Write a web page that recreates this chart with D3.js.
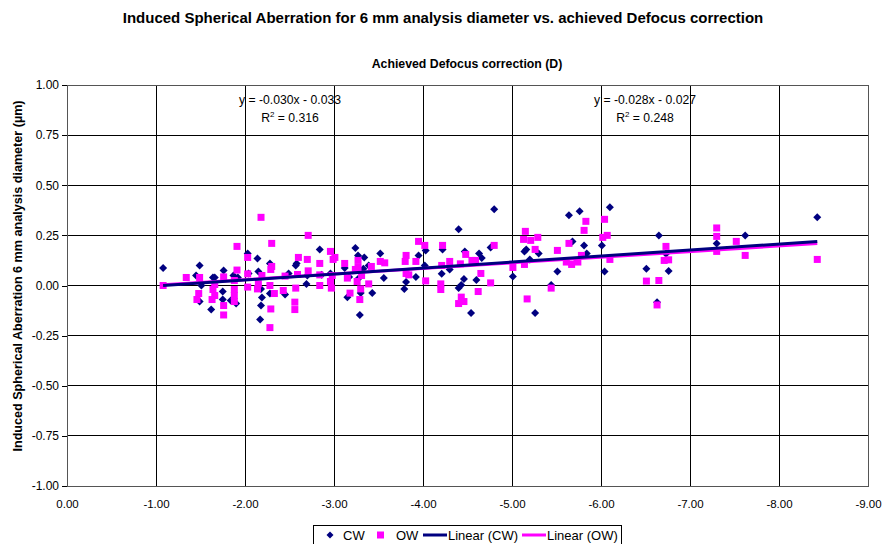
<!DOCTYPE html>
<html>
<head>
<meta charset="utf-8">
<script src="https://cdn.jsdelivr.net/npm/d3@7"></script>
<style>
  body { margin: 0; background: #fff; }
  svg { font-family: "Liberation Sans", Arial, sans-serif; display: block; }
</style>
</head>
<body>
<script>
// CW series (achieved defocus D, induced SA um)
const cwX = [-1.08,-1.49,-1.45,-1.64,-1.49,-1.62,-1.51,-2.03,-2.14,-2.84,-2.57,-2.58,-2.28,-1.76,-1.87,-1.92,-2.04,-2.15,-2.49,-2.70,
  -2.86,-2.96,-1.66,-1.75,-1.75,-1.90,-2.18,-2.19,-2.18,-2.17,-2.28,-2.45,-2.69,-3.24,-3.27,-3.34,-3.52,-3.12,-3.33,-3.39,
  -3.95,-4.03,-4.02,-4.22,-4.30,-4.21,-4.40,-3.17,-3.27,-3.30,-3.43,-3.15,-3.29,-3.56,-3.92,-3.81,-3.79,-4.80,-5.64,-5.76,
  -5.68,-4.76,-5.14,-5.16,-5.30,-5.20,-4.47,-4.63,-4.66,-5.01,-5.51,-4.46,-4.60,-4.43,-4.40,-5.44,-4.54,-5.26,-6.10,-5.81,
  -6.01,-5.84,-6.04,-6.65,-6.73,-6.51,-6.76,-6.63,-7.30,-7.62,-8.43,-1.84];
const cwY = [0.087,0.10,0.05,0.04,-0.08,-0.12,0.0,0.16,0.135,0.18,0.10,0.11,0.11,0.075,0.05,0.04,0.06,0.07,0.06,0.05,
  0.053,0.06,0.04,-0.03,-0.07,-0.09,-0.017,-0.06,-0.10,-0.17,-0.04,-0.045,0.008,0.187,0.15,0.14,0.16,0.087,0.083,0.10,
  0.15,0.175,0.10,0.18,0.08,0.058,0.28,0.042,0.033,-0.038,-0.038,-0.058,-0.147,0.037,0.043,0.017,-0.017,0.38,0.35,0.37,
  0.22,0.19,0.17,0.18,0.16,0.13,0.17,0.16,0.137,0.045,0.07,0.033,0.028,0.003,-0.013,0.003,-0.137,-0.137,0.39,0.20,
  0.20,0.16,0.07,0.25,0.158,0.083,0.072,-0.083,0.21,0.25,0.34,-0.075];

// OW series
const owX = [-1.08,-1.34,-1.49,-1.48,-1.46,-1.64,-1.63,-2.18,-2.71,-1.91,-2.30,-2.03,-2.96,-2.99,-2.60,-2.70,-2.84,-2.30,-2.29,-1.91,
  -1.76,-2.03,-2.19,-2.45,-2.59,-2.71,-2.84,-2.98,-1.66,-1.66,-1.88,-1.88,-1.88,-1.88,-1.76,-1.76,-2.03,-2.14,-2.15,-2.28,
  -2.33,-2.29,-2.28,-2.43,-2.57,-2.56,-2.56,-2.84,-2.96,-2.97,-3.01,-3.12,-3.27,-3.27,-3.24,-3.42,-3.52,-3.57,-3.81,-3.80,
  -3.95,-4.02,-3.92,-4.22,-4.30,-4.21,-3.15,-3.31,-3.26,-3.30,-3.39,-3.18,-3.29,-3.81,-3.84,-4.03,-4.20,-4.20,-4.40,-5.15,
  -5.13,-5.21,-5.29,-5.64,-4.80,-5.26,-5.51,-4.48,-4.55,-4.59,-4.42,-4.65,-5.01,-5.14,-5.61,-5.67,-5.73,-4.76,-4.62,-5.44,
  -4.43,-4.46,-5.17,-5.83,-5.81,-6.04,-6.02,-6.07,-5.78,-5.74,-6.10,-6.73,-6.71,-6.76,-6.51,-6.65,-6.63,-7.30,-7.30,-7.30,
  -7.52,-7.62,-8.43];
const owY = [0.0,0.04,0.04,-0.04,-0.07,-0.02,-0.07,0.34,0.25,0.195,0.21,0.14,0.17,0.13,0.14,0.13,0.11,0.095,0.08,0.077,
  0.043,0.058,0.05,0.047,0.055,0.073,0.053,0.05,0.005,-0.05,0.025,-0.02,-0.05,-0.08,-0.10,-0.147,-0.008,-0.017,0.008,0.0,
  -0.04,-0.117,-0.21,-0.025,-0.013,-0.083,-0.12,0.0,0.02,-0.013,0.14,0.11,0.125,0.09,0.08,0.095,0.12,0.113,0.15,0.12,
  0.22,0.20,0.12,0.20,0.12,0.10,0.037,0.05,0.02,-0.017,0.008,-0.038,-0.07,0.06,0.053,0.023,0.008,-0.02,-0.09,0.27,
  0.23,0.225,0.24,0.21,0.20,0.18,0.175,0.155,0.125,0.125,0.108,0.06,0.09,0.105,0.117,0.105,0.12,0.013,-0.03,-0.013,
  -0.058,-0.08,-0.067,0.32,0.275,0.33,0.24,0.25,0.15,0.117,0.13,0.195,0.125,0.128,0.022,0.025,-0.097,0.287,0.245,0.17,
  0.22,0.15,0.13];

// linear trendlines as printed on the chart
const trendCW = {slope: -0.030, intercept: -0.033, r2: 0.316};
const trendOW = {slope: -0.028, intercept: -0.027, r2: 0.248};

const xTicks = [0,-1,-2,-3,-4,-5,-6,-7,-8,-9];
const yTicks = [-1,-0.75,-0.5,-0.25,0,0.25,0.5,0.75,1];

const W = 883, H = 544;
const navy = "#000080", magenta = "#FF00FF";

// plain hyphen instead of d3's unicode minus
const fmt2 = v => d3.format(".2f")(v).replace("\u2212", "-");
const fmt3 = v => d3.format(".3f")(v).replace("\u2212", "-");

const svg = d3.select("body").append("svg").attr("width", W).attr("height", H);

const x = d3.scaleLinear().domain([0, -9]).range([67, 868]);
const y = d3.scaleLinear().domain([-1, 1]).range([486, 85]);

// titles
svg.append("text").attr("x", 443).attr("y", 23).attr("text-anchor", "middle")
  .attr("font-weight", "bold").attr("font-size", 15)
  .text("Induced Spherical Aberration for 6 mm analysis diameter vs. achieved Defocus correction");
svg.append("text").attr("x", 467).attr("y", 68).attr("text-anchor", "middle")
  .attr("font-weight", "bold").attr("font-size", 12.3)
  .text("Achieved Defocus correction (D)");
svg.append("text").attr("transform", "translate(22,276) rotate(-90)").attr("text-anchor", "middle")
  .attr("font-weight", "bold").attr("font-size", 12.6)
  .text("Induced Spherical Aberration 6 mm analysis diameter (µm)");

// grid
const grid = svg.append("g").attr("shape-rendering", "crispEdges");
grid.selectAll("line.v").data(xTicks).join("line")
  .attr("x1", d => x(d)).attr("x2", d => x(d)).attr("y1", y(1)).attr("y2", y(-1))
  .attr("stroke", "#000");
grid.selectAll("line.h").data(yTicks).join("line")
  .attr("y1", d => y(d)).attr("y2", d => y(d)).attr("x1", x(0)).attr("x2", x(-9))
  .attr("stroke", "#000");
grid.append("rect").attr("x", x(0)).attr("y", y(1)).attr("width", x(-9) - x(0)).attr("height", y(-1) - y(1))
  .attr("fill", "none").attr("stroke", "#555");

// axes
const yAxis = svg.append("g").attr("transform", `translate(${x(0)},0)`)
  .call(d3.axisLeft(y).tickValues(yTicks).tickFormat(fmt2).tickSize(5).tickPadding(3));
const xAxis = svg.append("g").attr("transform", `translate(0,${y(-1)})`)
  .call(d3.axisBottom(x).tickValues(xTicks).tickFormat(fmt2).tickSize(0).tickPadding(14));
[yAxis, xAxis].forEach(a => {
  a.select(".domain").remove();
  a.selectAll("text").attr("font-size", 12).attr("fill", "#000").attr("font-family", "Liberation Sans, Arial, sans-serif");
  a.selectAll("line").attr("stroke", "#000").attr("shape-rendering", "crispEdges");
});
xAxis.selectAll("text").attr("font-size", 11.5);

// points
const cw = cwX.map((v, i) => ({x: v, y: cwY[i]}));
const ow = owX.map((v, i) => ({x: v, y: owY[i]}));

svg.append("g").selectAll("path").data(cw).join("path")
  .attr("d", "M0,-4L4,0L0,4L-4,0Z")
  .attr("transform", d => `translate(${x(d.x)},${y(d.y)})`)
  .attr("fill", navy);
svg.append("g").selectAll("rect").data(ow).join("rect")
  .attr("x", d => x(d.x) - 3.5).attr("y", d => y(d.y) - 3.5)
  .attr("width", 7).attr("height", 7)
  .attr("fill", magenta);

// trendlines
function trendLine(pts, t, color) {
  const ext = d3.extent(pts, d => d.x);
  svg.append("line")
    .attr("x1", x(ext[0])).attr("y1", y(t.slope * ext[0] + t.intercept))
    .attr("x2", x(ext[1])).attr("y2", y(t.slope * ext[1] + t.intercept))
    .attr("stroke", color).attr("stroke-width", 3);
}
trendLine(ow, trendOW, magenta);
trendLine(cw, trendCW, navy);

// equation labels
function eqLabel(cx, t) {
  const sgn = v => v < 0 ? "- " + fmt3(-v) : "+ " + fmt3(v);
  svg.append("text").attr("x", cx).attr("y", 104).attr("text-anchor", "middle").attr("font-size", 12.2)
    .text(`y = ${fmt3(t.slope)}x ${sgn(t.intercept)}`);
  const r = svg.append("text").attr("x", cx).attr("y", 122).attr("text-anchor", "middle").attr("font-size", 12.2);
  r.append("tspan").text("R");
  r.append("tspan").attr("font-size", 8).attr("dy", -5).text("2");
  r.append("tspan").attr("dy", 5).text(` = ${fmt3(t.r2)}`);
}
eqLabel(290, trendCW);
eqLabel(645, trendOW);

// legend
const lg = svg.append("g");
lg.append("rect").attr("x", 313.5).attr("y", 525.5).attr("width", 308).attr("height", 30)
  .attr("fill", "#fff").attr("stroke", "#000").attr("shape-rendering", "crispEdges");
const ly = 535;
lg.append("path").attr("d", "M0,-3.5L3.5,0L0,3.5L-3.5,0Z").attr("transform", `translate(330,${ly})`).attr("fill", navy);
lg.append("text").attr("x", 343).attr("y", ly + 4.5).attr("font-size", 13).text("CW");
lg.append("rect").attr("x", 377).attr("y", ly - 3.5).attr("width", 7).attr("height", 7).attr("fill", magenta);
lg.append("text").attr("x", 396).attr("y", ly + 4.5).attr("font-size", 13).text("OW");
lg.append("line").attr("x1", 423).attr("x2", 447).attr("y1", ly).attr("y2", ly).attr("stroke", navy).attr("stroke-width", 3);
lg.append("text").attr("x", 448).attr("y", ly + 4.5).attr("font-size", 13).text("Linear (CW)");
lg.append("line").attr("x1", 522).attr("x2", 546).attr("y1", ly).attr("y2", ly).attr("stroke", magenta).attr("stroke-width", 3);
lg.append("text").attr("x", 547).attr("y", ly + 4.5).attr("font-size", 13).text("Linear (OW)");
</script>
</body>
</html>
